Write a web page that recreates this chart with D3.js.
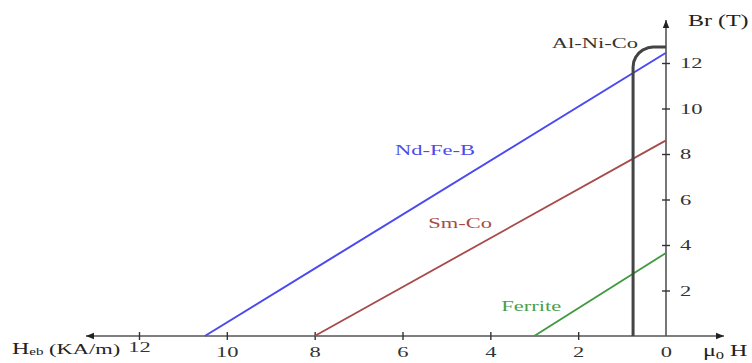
<!DOCTYPE html>
<html><head><meta charset="utf-8">
<script src="https://cdn.jsdelivr.net/npm/d3@7"></script>
<style>
body{margin:0;background:#fff}
</style></head>
<body><svg id="c" width="752" height="363"></svg>
<script>
const xTicks = [12, 10, 8, 6, 4, 2, 0];
const yTicks = [2, 4, 6, 8, 10, 12];
const ndfeb = [[10.5, 0], [0, 12.45]];
const smco = [[8, 0], [0, 8.6]];
const ferrite = [[3, 0], [0, 3.65]];
const alnico = [[0.75, 0], [0.75, 11.82], [0.735, 12.05], [0.689, 12.26], [0.617, 12.44],
                [0.522, 12.58], [0.413, 12.67], [0.295, 12.7], [0, 12.7]];
const labels = [
  {t: "Nd-Fe-B", h: 5.26, b: 8.1, c: "#4a4ae8"},
  {t: "Sm-Co", h: 4.69, b: 4.88, c: "#a84a4a"},
  {t: "Ferrite", h: 3.07, b: 1.27, c: "#4aa04a"},
  {t: "Al-Ni-Co", h: 1.62, b: 12.8, c: "#333"}
];

const FONT = "'Liberation Serif', 'Times New Roman', 'DejaVu Serif', serif";
const svg = d3.select("#c");
const x = d3.scaleLinear().domain([0, 12]).range([666, 139]);
const y = d3.scaleLinear().domain([0, 12]).range([336, 63]);
const axisCol = "#555";
const SX = 1.5;

svg.append("defs").append("marker").attr("id", "arr").attr("viewBox", "0 0 10 10")
  .attr("refX", 10).attr("refY", 5).attr("markerWidth", 14).attr("markerHeight", 8)
  .attr("markerUnits", "userSpaceOnUse").attr("orient", "auto")
  .append("path").attr("d", "M0,1 L10,5 L0,9 Z").attr("fill", "#222");

svg.append("line").attr("x1", x(0)).attr("x2", 86).attr("y1", y(0)).attr("y2", y(0))
  .attr("stroke", axisCol).attr("stroke-width", 1.6).attr("marker-end", "url(#arr)");
svg.append("line").attr("x1", x(0)).attr("x2", 724).attr("y1", y(0)).attr("y2", y(0))
  .attr("stroke", axisCol).attr("stroke-width", 1.6).attr("marker-end", "url(#arr)");
svg.append("line").attr("x1", x(0)).attr("x2", x(0)).attr("y1", y(0)).attr("y2", 20)
  .attr("stroke", axisCol).attr("stroke-width", 1.6).attr("marker-end", "url(#arr)");

const gx = svg.append("g").attr("transform", `translate(0,${y(0)})`)
  .call(d3.axisBottom(x).tickValues(xTicks).tickSize(4).tickFormat(d3.format("d")));
gx.attr("font-family", FONT);
gx.select(".domain").remove();
gx.selectAll(".tick line").attr("y1", -4).attr("y2", 4).attr("stroke", "#333").attr("stroke-width", 1.4)
  .filter(d => d === 0).remove();
gx.selectAll(".tick text").attr("y", 10).attr("font-size", 15).attr("fill", "#333")
  .style("font-family", FONT)
  .attr("transform", `scale(${SX},1)`)
  .filter(d => d === 12).attr("y", 5);

const gy = svg.append("g").attr("transform", `translate(${x(0)},0)`)
  .call(d3.axisRight(y).tickValues(yTicks).tickSize(4).tickFormat(d3.format("d")));
gy.attr("font-family", FONT);
gy.select(".domain").remove();
gy.selectAll(".tick line").attr("x1", -4).attr("x2", 4).attr("stroke", "#333").attr("stroke-width", 1.4);
gy.selectAll(".tick text").attr("x", 14 / SX).attr("font-size", 15).attr("fill", "#333")
  .style("font-family", FONT)
  .attr("transform", `scale(${SX},1)`);

const line = d3.line().x(d => x(d[0])).y(d => y(d[1]));
svg.append("path").attr("d", line(ndfeb)).attr("stroke", "#4a4af0").attr("stroke-width", 2).attr("fill", "none");
svg.append("path").attr("d", line(smco)).attr("stroke", "#a84a4a").attr("stroke-width", 1.8).attr("fill", "none");
svg.append("path").attr("d", line(ferrite)).attr("stroke", "#3f9a3f").attr("stroke-width", 1.8).attr("fill", "none");
svg.append("path").attr("d", line(alnico)).attr("stroke", "#444").attr("stroke-width", 3)
  .attr("stroke-linejoin", "round").attr("fill", "none");

labels.forEach(l => {
  svg.append("text").attr("transform", `translate(${x(l.h)},${y(l.b)}) scale(${SX},1)`)
    .attr("text-anchor", "middle").attr("dominant-baseline", "middle")
    .style("font-family", FONT)
    .attr("font-size", 15).attr("fill", l.c).text(l.t);
});

svg.append("text").attr("transform", `translate(688,26) scale(${SX},1)`).style("font-family", FONT)
  .attr("font-size", 16).attr("fill", "#222").text("Br (T)");
const hl = svg.append("text").attr("transform", `translate(12,354) scale(${SX},1)`).style("font-family", FONT)
  .attr("font-size", 16).attr("fill", "#222");
hl.append("tspan").text("H");
hl.append("tspan").attr("font-size", 10).attr("dy", 1).text("eb");
hl.append("tspan").attr("font-size", 15).attr("dy", -1).text(" (KA/m)");
const mu = svg.append("text").attr("transform", `translate(703,356) scale(${SX},1)`).style("font-family", FONT)
  .attr("font-size", 16).attr("fill", "#222");
mu.append("tspan").text("μ");
mu.append("tspan").attr("font-size", 11).attr("dy", 3).text("0");
mu.append("tspan").attr("dy", -3).text(" H");
</script></body></html>
